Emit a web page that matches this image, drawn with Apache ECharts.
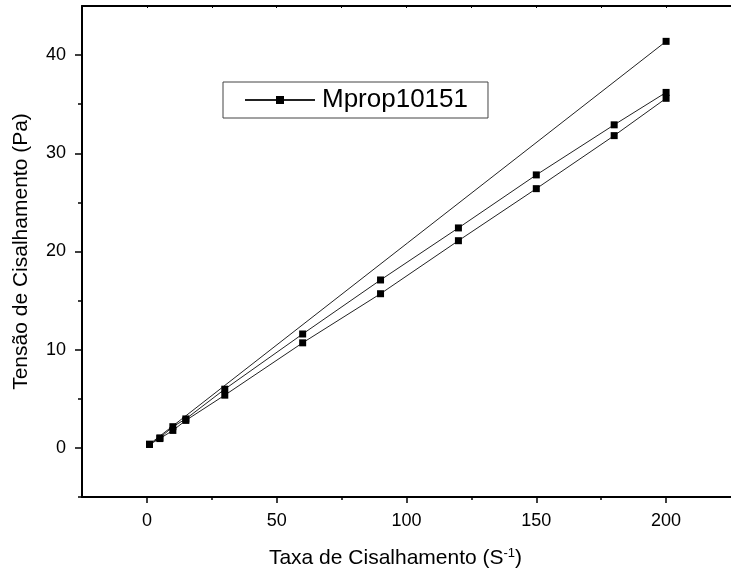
<!DOCTYPE html>
<html>
<head>
<meta charset="utf-8">
<script src="https://cdn.jsdelivr.net/npm/echarts@6/dist/echarts.min.js"></script>
<style>
  html, body { margin: 0; padding: 0; background: #fff; }
  #chart { width: 731px; height: 577px; }
</style>
</head>
<body>
<div id="chart"></div>
<script>
// taxa de cisalhamento (S-1) e tensão (Pa), na ordem da medição
var shearRate = [200, 1, 5, 10, 15, 30, 60, 90, 120, 150, 180, 200,
                 200, 180, 150, 120, 90, 60, 30, 15, 10, 5, 1];
var shearStress = [41.4, 0.38, 1.02, 2.16, 2.95, 5.98, 11.6, 17.1, 22.4, 27.8, 32.9, 36.2,
                   35.6, 31.8, 26.4, 21.1, 15.7, 10.7, 5.37, 2.8, 1.78, 0.95, 0.35];
var seriesName = 'Mprop10151';
var xMajor = [0, 50, 100, 150, 200];
var yMajor = [0, 10, 20, 30, 40];

var font = '"Liberation Sans", Arial, sans-serif';

function getChart() {
  let chart = echarts.init(document.getElementById('chart'));
  let points = shearRate.map(function (x, i) { return [x, shearStress[i]]; });

  let option = {
    animation: false,
    backgroundColor: '#fff',
    grid: {
      left: 82,
      right: -9,
      top: 6,
      bottom: 80
    },
    legend: {
      left: 223,
      top: 82,
      data: [seriesName],
      itemWidth: 70,
      itemHeight: 10,
      itemGap: 0,
      padding: [5, 20, 5, 21],
      borderColor: '#444',
      borderWidth: 1,
      textStyle: {
        fontFamily: font,
        fontSize: 26,
        color: '#000',
        padding: [0, 0, 0, 2]
      }
    },
    xAxis: [{
      type: 'value',
      position: 'bottom',
      min: -25,
      max: 225,
      interval: 25,
      name: '{t|Taxa de Cisalhamento (S}{s|-1}{t|)}',
      nameLocation: 'middle',
      nameGap: 50,
      nameTextStyle: {
        padding: [0, 22, 0, 0],
        rich: {
          t: { fontFamily: font, fontSize: 21, color: '#000' },
          s: { fontFamily: font, fontSize: 13, color: '#000', verticalAlign: 'top', padding: [0, 0, 10, 0] }
        }
      },
      axisLine: { onZero: false, lineStyle: { color: '#000', width: 2 } },
      axisTick: {
        customValues: xMajor,
        length: 6,
        lineStyle: { color: '#000', width: 1.5 }
      },
      axisLabel: {
        customValues: xMajor,
        margin: 15,
        fontFamily: font,
        fontSize: 18,
        color: '#000'
      },
      splitLine: { show: false }
    }, {
      type: 'value',
      position: 'bottom',
      min: -25,
      max: 225,
      axisLine: { show: false, onZero: false },
      axisTick: {
        customValues: [25, 75, 125, 175],
        length: 3,
        lineStyle: { color: '#000', width: 1.5 }
      },
      axisLabel: { show: false },
      splitLine: { show: false }
    }, {
      type: 'value',
      position: 'top',
      min: -25,
      max: 225,
      axisLine: { onZero: false, lineStyle: { color: '#000', width: 2 } },
      axisTick: {
        inside: true,
        customValues: [0, 25, 50, 75, 100, 125, 150, 175, 200],
        length: 2,
        lineStyle: { color: '#000', width: 1 }
      },
      axisLabel: { show: false },
      splitLine: { show: false }
    }],
    yAxis: [{
      type: 'value',
      position: 'left',
      min: -5,
      max: 45,
      interval: 5,
      name: 'Tensão de Cisalhamento (Pa)',
      nameLocation: 'middle',
      nameGap: 50,
      nameTextStyle: {
        fontFamily: font,
        fontSize: 21,
        color: '#000'
      },
      axisLine: { onZero: false, lineStyle: { color: '#000', width: 2 } },
      axisTick: {
        customValues: yMajor,
        length: 7,
        lineStyle: { color: '#000', width: 1.5 }
      },
      axisLabel: {
        customValues: yMajor,
        margin: 16,
        fontFamily: font,
        fontSize: 18,
        color: '#000'
      },
      splitLine: { show: false }
    }, {
      type: 'value',
      position: 'left',
      min: -5,
      max: 45,
      axisLine: { show: false, onZero: false },
      axisTick: {
        customValues: [-5, 5, 15, 25, 35],
        length: 4,
        lineStyle: { color: '#000', width: 1.5 }
      },
      axisLabel: { show: false },
      splitLine: { show: false }
    }],
    series: [{
      name: seriesName,
      type: 'line',
      xAxisIndex: 0,
      yAxisIndex: 0,
      data: points,
      symbol: 'rect',
      symbolSize: 7,
      showAllSymbol: true,
      itemStyle: { color: '#000' },
      lineStyle: { color: '#222', width: 1 }
    }]
  };
  chart.setOption(option);
}

getChart();
</script>
</body>
</html>
